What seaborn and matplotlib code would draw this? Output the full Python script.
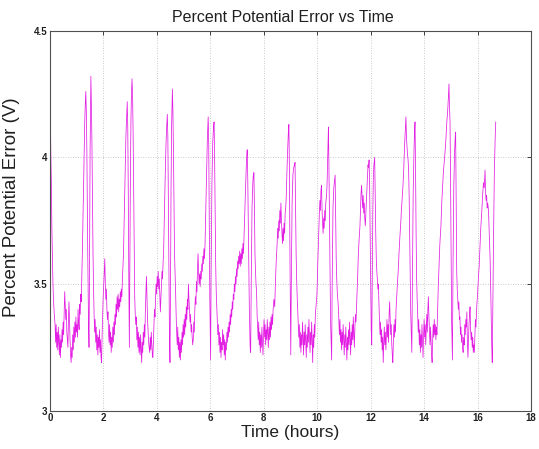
import matplotlib
matplotlib.use("Agg")
import matplotlib.pyplot as plt
import seaborn as sns
import pandas as pd

# Time (hours)
time_h = [
    0.00, 0.02, 0.03, 0.05, 0.07, 0.09, 0.11, 0.13, 0.16, 0.19,
    0.21, 0.23, 0.25, 0.27, 0.29, 0.31, 0.33, 0.35, 0.37, 0.39,
    0.41, 0.43, 0.45, 0.47, 0.49, 0.51, 0.53, 0.55, 0.57, 0.59,
    0.61, 0.63, 0.65, 0.67, 0.69, 0.71, 0.73, 0.75, 0.77, 0.79,
    0.81, 0.83, 0.85, 0.87, 0.89, 0.91, 0.93, 0.95, 0.97, 0.99,
    1.01, 1.03, 1.05, 1.07, 1.09, 1.11, 1.13, 1.15, 1.17, 1.19,
    1.21, 1.24, 1.27, 1.30, 1.32, 1.34, 1.36, 1.38, 1.41, 1.44,
    1.46, 1.48, 1.50, 1.52, 1.53, 1.55, 1.57, 1.59, 1.61, 1.63,
    1.65, 1.67, 1.69, 1.71, 1.73, 1.75, 1.77, 1.79, 1.81, 1.83,
    1.85, 1.87, 1.89, 1.91, 1.93, 1.95, 1.97, 1.99, 2.02, 2.05,
    2.07, 2.09, 2.11, 2.13, 2.15, 2.17, 2.19, 2.21, 2.23, 2.25,
    2.27, 2.29, 2.31, 2.33, 2.35, 2.37, 2.39, 2.41, 2.43, 2.45,
    2.47, 2.49, 2.51, 2.53, 2.55, 2.57, 2.59, 2.61, 2.63, 2.65,
    2.67, 2.69, 2.71, 2.73, 2.75, 2.78, 2.81, 2.84, 2.87, 2.89,
    2.91, 2.93, 2.95, 2.97, 2.99, 3.01, 3.03, 3.05, 3.07, 3.09,
    3.11, 3.13, 3.15, 3.17, 3.19, 3.21, 3.23, 3.25, 3.27, 3.29,
    3.31, 3.33, 3.35, 3.37, 3.39, 3.41, 3.43, 3.45, 3.47, 3.49,
    3.51, 3.53, 3.55, 3.57, 3.59, 3.61, 3.63, 3.65, 3.67, 3.69,
    3.71, 3.73, 3.75, 3.77, 3.79, 3.81, 3.83, 3.85, 3.87, 3.89,
    3.91, 3.93, 3.95, 3.97, 3.99, 4.01, 4.03, 4.05, 4.07, 4.09,
    4.11, 4.13, 4.15, 4.17, 4.19, 4.21, 4.23, 4.25, 4.28, 4.31,
    4.34, 4.37, 4.39, 4.41, 4.43, 4.45, 4.47, 4.49, 4.51, 4.53,
    4.55, 4.57, 4.58, 4.60, 4.62, 4.64, 4.66, 4.68, 4.70, 4.72,
    4.74, 4.76, 4.78, 4.80, 4.82, 4.84, 4.86, 4.88, 4.90, 4.92,
    4.94, 4.96, 4.98, 5.00, 5.02, 5.04, 5.06, 5.08, 5.10, 5.12,
    5.14, 5.16, 5.18, 5.20, 5.22, 5.24, 5.26, 5.28, 5.30, 5.32,
    5.34, 5.36, 5.38, 5.40, 5.42, 5.44, 5.46, 5.48, 5.50, 5.52,
    5.54, 5.56, 5.58, 5.60, 5.62, 5.64, 5.66, 5.68, 5.70, 5.72,
    5.74, 5.76, 5.78, 5.80, 5.83, 5.86, 5.89, 5.92, 5.94, 5.96,
    5.98, 6.01, 6.03, 6.06, 6.09, 6.12, 6.14, 6.16, 6.18, 6.20,
    6.22, 6.24, 6.26, 6.28, 6.30, 6.32, 6.34, 6.36, 6.38, 6.40,
    6.42, 6.44, 6.46, 6.48, 6.50, 6.52, 6.54, 6.56, 6.58, 6.60,
    6.62, 6.64, 6.66, 6.68, 6.70, 6.72, 6.74, 6.76, 6.78, 6.80,
    6.82, 6.84, 6.86, 6.88, 6.90, 6.92, 6.94, 6.96, 6.98, 7.00,
    7.02, 7.04, 7.06, 7.08, 7.10, 7.12, 7.14, 7.16, 7.18, 7.20,
    7.22, 7.24, 7.26, 7.28, 7.31, 7.34, 7.36, 7.38, 7.40, 7.43,
    7.46, 7.49, 7.51, 7.53, 7.56, 7.59, 7.61, 7.63, 7.65, 7.67,
    7.69, 7.71, 7.73, 7.75, 7.77, 7.79, 7.81, 7.83, 7.85, 7.87,
    7.89, 7.91, 7.93, 7.95, 7.97, 7.99, 8.01, 8.03, 8.05, 8.07,
    8.09, 8.11, 8.13, 8.15, 8.17, 8.19, 8.21, 8.23, 8.25, 8.27,
    8.29, 8.31, 8.33, 8.35, 8.38, 8.41, 8.44, 8.47, 8.50, 8.52,
    8.54, 8.56, 8.58, 8.60, 8.62, 8.64, 8.66, 8.68, 8.70, 8.72,
    8.74, 8.76, 8.78, 8.80, 8.82, 8.84, 8.86, 8.89, 8.92, 8.94,
    8.96, 8.98, 9.01, 9.03, 9.06, 9.09, 9.12, 9.15, 9.17, 9.19,
    9.21, 9.23, 9.25, 9.27, 9.29, 9.31, 9.33, 9.35, 9.37, 9.39,
    9.41, 9.43, 9.45, 9.47, 9.49, 9.51, 9.53, 9.55, 9.57, 9.59,
    9.61, 9.63, 9.65, 9.67, 9.69, 9.71, 9.73, 9.75, 9.77, 9.79,
    9.81, 9.83, 9.85, 9.87, 9.89, 9.91, 9.93, 9.96, 9.99, 10.02,
    10.05, 10.08, 10.10, 10.12, 10.14, 10.16, 10.18, 10.20, 10.22, 10.24,
    10.26, 10.28, 10.30, 10.32, 10.35, 10.37, 10.39, 10.41, 10.42, 10.44,
    10.47, 10.50, 10.54, 10.56, 10.59, 10.62, 10.65, 10.67, 10.69, 10.71,
    10.73, 10.75, 10.77, 10.79, 10.81, 10.83, 10.85, 10.87, 10.89, 10.91,
    10.93, 10.95, 10.97, 10.99, 11.01, 11.03, 11.05, 11.07, 11.09, 11.11,
    11.13, 11.15, 11.17, 11.19, 11.21, 11.23, 11.25, 11.27, 11.29, 11.31,
    11.33, 11.35, 11.37, 11.39, 11.41, 11.43, 11.45, 11.48, 11.51, 11.54,
    11.57, 11.60, 11.62, 11.64, 11.66, 11.68, 11.70, 11.72, 11.74, 11.76,
    11.78, 11.80, 11.82, 11.84, 11.86, 11.88, 11.90, 11.92, 11.94, 11.96,
    11.98, 12.00, 12.02, 12.04, 12.06, 12.08, 12.10, 12.12, 12.15, 12.17,
    12.19, 12.21, 12.23, 12.25, 12.27, 12.29, 12.31, 12.33, 12.35, 12.37,
    12.39, 12.41, 12.43, 12.45, 12.47, 12.49, 12.51, 12.53, 12.55, 12.57,
    12.59, 12.61, 12.63, 12.65, 12.67, 12.69, 12.71, 12.73, 12.75, 12.77,
    12.79, 12.81, 12.83, 12.85, 12.87, 12.89, 12.91, 12.93, 12.95, 12.97,
    13.00, 13.03, 13.06, 13.09, 13.12, 13.15, 13.18, 13.21, 13.24, 13.27,
    13.30, 13.32, 13.34, 13.36, 13.38, 13.40, 13.42, 13.44, 13.47, 13.50,
    13.54, 13.56, 13.59, 13.62, 13.64, 13.66, 13.68, 13.70, 13.72, 13.74,
    13.76, 13.78, 13.80, 13.82, 13.84, 13.86, 13.88, 13.90, 13.92, 13.94,
    13.96, 13.98, 14.00, 14.02, 14.04, 14.06, 14.08, 14.10, 14.12, 14.14,
    14.16, 14.18, 14.20, 14.22, 14.24, 14.26, 14.28, 14.30, 14.32, 14.34,
    14.36, 14.38, 14.40, 14.42, 14.44, 14.46, 14.48, 14.50, 14.53, 14.56,
    14.59, 14.63, 14.66, 14.69, 14.72, 14.76, 14.79, 14.82, 14.85, 14.88,
    14.91, 14.93, 14.95, 14.97, 14.99, 15.01, 15.03, 15.06, 15.08, 15.11,
    15.14, 15.16, 15.18, 15.20, 15.22, 15.24, 15.26, 15.28, 15.30, 15.32,
    15.34, 15.36, 15.38, 15.40, 15.42, 15.44, 15.46, 15.48, 15.50, 15.52,
    15.54, 15.56, 15.58, 15.60, 15.62, 15.64, 15.66, 15.68, 15.70, 15.72,
    15.74, 15.76, 15.78, 15.80, 15.82, 15.84, 15.86, 15.88, 15.90, 15.92,
    15.94, 15.97, 16.00, 16.03, 16.06, 16.09, 16.12, 16.16, 16.19, 16.22,
    16.25, 16.28, 16.30, 16.32, 16.34, 16.36, 16.38, 16.41, 16.43, 16.45,
    16.47, 16.49, 16.51, 16.53, 16.55, 16.57, 16.60, 16.63, 16.66, 16.68,
]

# Percent potential error (V)
error_v = [
    4.24, 4.12, 4.02, 3.90, 3.72, 3.60, 3.50, 3.44, 3.38, 3.34,
    3.27, 3.34, 3.25, 3.31, 3.24, 3.33, 3.27, 3.22, 3.30, 3.21,
    3.28, 3.25, 3.32, 3.27, 3.35, 3.30, 3.38, 3.47, 3.42, 3.36,
    3.40, 3.31, 3.28, 3.25, 3.36, 3.43, 3.35, 3.28, 3.22, 3.19,
    3.25, 3.21, 3.30, 3.24, 3.33, 3.27, 3.35, 3.29, 3.37, 3.31,
    3.34, 3.29, 3.40, 3.35, 3.32, 3.42, 3.38, 3.46, 3.43, 3.52,
    3.62, 3.80, 4.00, 4.14, 4.21, 4.26, 4.18, 4.02, 3.65, 3.35,
    3.25, 3.58, 4.02, 4.24, 4.32, 4.20, 4.05, 3.82, 3.62, 3.48,
    3.38, 3.31, 3.36, 3.27, 3.33, 3.24, 3.30, 3.22, 3.29, 3.25,
    3.32, 3.23, 3.28, 3.21, 3.19, 3.30, 3.38, 3.45, 3.52, 3.60,
    3.50, 3.44, 3.48, 3.40, 3.36, 3.39, 3.31, 3.27, 3.34, 3.26,
    3.31, 3.23, 3.29, 3.25, 3.33, 3.27, 3.35, 3.30, 3.38, 3.34,
    3.42, 3.37, 3.45, 3.40, 3.46, 3.39, 3.44, 3.41, 3.47, 3.43,
    3.48, 3.45, 3.52, 3.57, 3.62, 3.78, 3.95, 4.08, 4.17, 4.22,
    4.12, 3.85, 3.50, 3.25, 3.60, 3.95, 4.15, 4.26, 4.31, 4.24,
    4.10, 3.88, 3.62, 3.45, 3.38, 3.34, 3.37, 3.28, 3.33, 3.25,
    3.31, 3.23, 3.29, 3.22, 3.30, 3.24, 3.19, 3.27, 3.23, 3.31,
    3.26, 3.34, 3.29, 3.40, 3.47, 3.53, 3.44, 3.36, 3.31, 3.27,
    3.25, 3.23, 3.29, 3.24, 3.31, 3.26, 3.22, 3.21, 3.28, 3.34,
    3.40, 3.37, 3.45, 3.50, 3.46, 3.53, 3.49, 3.55, 3.48, 3.52,
    3.45, 3.39, 3.44, 3.50, 3.55, 3.52, 3.58, 3.62, 3.78, 3.92,
    4.05, 4.13, 4.17, 4.08, 3.82, 3.55, 3.30, 3.19, 3.50, 3.88,
    4.12, 4.22, 4.27, 4.18, 4.02, 3.80, 3.62, 3.55, 3.47, 3.38,
    3.31, 3.26, 3.33, 3.24, 3.29, 3.21, 3.27, 3.20, 3.28, 3.23,
    3.31, 3.26, 3.34, 3.29, 3.36, 3.30, 3.38, 3.33, 3.41, 3.36,
    3.44, 3.40, 3.50, 3.44, 3.40, 3.35, 3.38, 3.31, 3.34, 3.29,
    3.26, 3.28, 3.35, 3.31, 3.40, 3.45, 3.42, 3.51, 3.47, 3.56,
    3.62, 3.55, 3.50, 3.54, 3.49, 3.55, 3.52, 3.58, 3.55, 3.61,
    3.58, 3.64, 3.60, 3.65, 3.80, 3.95, 4.08, 4.16, 4.05, 3.75,
    3.45, 3.20, 3.55, 3.90, 4.06, 4.12, 4.14, 4.00, 3.78, 3.58,
    3.47, 3.41, 3.35, 3.30, 3.34, 3.26, 3.31, 3.23, 3.29, 3.21,
    3.27, 3.24, 3.32, 3.26, 3.30, 3.22, 3.28, 3.20, 3.27, 3.24,
    3.31, 3.27, 3.33, 3.29, 3.35, 3.31, 3.38, 3.34, 3.40, 3.37,
    3.43, 3.40, 3.46, 3.44, 3.50, 3.47, 3.53, 3.50, 3.56, 3.53,
    3.59, 3.56, 3.61, 3.58, 3.63, 3.57, 3.62, 3.58, 3.64, 3.60,
    3.66, 3.62, 3.68, 3.75, 3.85, 3.95, 4.00, 4.03, 3.92, 3.65,
    3.40, 3.25, 3.23, 3.50, 3.80, 3.90, 3.93, 3.94, 3.80, 3.62,
    3.55, 3.50, 3.47, 3.38, 3.33, 3.28, 3.35, 3.26, 3.31, 3.23,
    3.30, 3.25, 3.33, 3.27, 3.22, 3.30, 3.36, 3.29, 3.34, 3.26,
    3.32, 3.28, 3.36, 3.30, 3.25, 3.33, 3.28, 3.35, 3.29, 3.37,
    3.32, 3.38, 3.34, 3.40, 3.44, 3.41, 3.52, 3.60, 3.66, 3.72,
    3.68, 3.75, 3.71, 3.79, 3.74, 3.82, 3.76, 3.70, 3.66, 3.72,
    3.67, 3.74, 3.70, 3.78, 3.80, 3.84, 3.92, 4.02, 4.10, 4.13,
    3.95, 3.60, 3.22, 3.50, 3.82, 3.93, 3.96, 3.97, 3.98, 3.80,
    3.62, 3.52, 3.45, 3.40, 3.36, 3.29, 3.34, 3.25, 3.31, 3.23,
    3.30, 3.26, 3.35, 3.28, 3.22, 3.31, 3.26, 3.34, 3.28, 3.21,
    3.30, 3.25, 3.33, 3.27, 3.36, 3.29, 3.23, 3.31, 3.26, 3.35,
    3.28, 3.19, 3.30, 3.25, 3.34, 3.29, 3.38, 3.42, 3.46, 3.58,
    3.68, 3.78, 3.83, 3.79, 3.87, 3.89, 3.80, 3.74, 3.70, 3.76,
    3.72, 3.79, 3.75, 3.82, 3.85, 3.90, 4.00, 4.08, 4.12, 3.95,
    3.65, 3.35, 3.20, 3.50, 3.80, 3.88, 3.91, 3.93, 3.78, 3.60,
    3.52, 3.47, 3.44, 3.41, 3.35, 3.30, 3.36, 3.27, 3.32, 3.24,
    3.31, 3.26, 3.34, 3.28, 3.22, 3.30, 3.25, 3.33, 3.27, 3.20,
    3.29, 3.24, 3.32, 3.26, 3.35, 3.28, 3.22, 3.31, 3.26, 3.34,
    3.28, 3.37, 3.30, 3.25, 3.33, 3.38, 3.35, 3.43, 3.52, 3.62,
    3.68, 3.73, 3.80, 3.86, 3.89, 3.84, 3.80, 3.85, 3.78, 3.82,
    3.76, 3.73, 3.78, 3.82, 3.88, 3.93, 3.97, 3.96, 3.99, 3.90,
    3.70, 3.50, 3.32, 3.26, 3.50, 3.78, 3.92, 3.97, 4.00, 3.85,
    3.70, 3.60, 3.55, 3.52, 3.48, 3.50, 3.42, 3.36, 3.30, 3.35,
    3.27, 3.32, 3.24, 3.29, 3.19, 3.27, 3.33, 3.26, 3.31, 3.24,
    3.30, 3.36, 3.29, 3.34, 3.27, 3.38, 3.43, 3.36, 3.30, 3.34,
    3.26, 3.22, 3.19, 3.28, 3.34, 3.29, 3.36, 3.31, 3.40, 3.44,
    3.50, 3.55, 3.62, 3.68, 3.73, 3.79, 3.84, 3.89, 3.96, 4.05,
    4.12, 4.16, 4.08, 4.04, 4.01, 3.99, 3.95, 3.85, 3.60, 3.38,
    3.23, 3.50, 3.85, 4.02, 4.10, 4.14, 3.95, 3.70, 3.52, 3.44,
    3.38, 3.31, 3.36, 3.26, 3.32, 3.23, 3.30, 3.25, 3.34, 3.28,
    3.21, 3.30, 3.36, 3.29, 3.34, 3.26, 3.32, 3.38, 3.31, 3.40,
    3.45, 3.37, 3.31, 3.26, 3.33, 3.27, 3.22, 3.19, 3.28, 3.34,
    3.29, 3.36, 3.30, 3.34, 3.28, 3.33, 3.30, 3.38, 3.49, 3.58,
    3.66, 3.73, 3.82, 3.88, 3.94, 3.99, 4.03, 4.08, 4.14, 4.18,
    4.24, 4.29, 4.20, 4.14, 3.90, 3.60, 3.35, 3.20, 3.55, 3.88,
    4.02, 4.07, 4.10, 3.85, 3.55, 3.48, 3.44, 3.40, 3.43, 3.36,
    3.37, 3.30, 3.33, 3.27, 3.30, 3.25, 3.23, 3.29, 3.26, 3.34,
    3.30, 3.36, 3.33, 3.39, 3.27, 3.21, 3.28, 3.34, 3.38, 3.41,
    3.32, 3.28, 3.31, 3.25, 3.29, 3.23, 3.26, 3.23, 3.30, 3.36,
    3.33, 3.41, 3.46, 3.52, 3.57, 3.65, 3.72, 3.79, 3.85, 3.90,
    3.88, 3.95, 3.86, 3.83, 3.85, 3.80, 3.82, 3.79, 3.72, 3.66,
    3.60, 3.50, 3.38, 3.26, 3.19, 3.40, 3.70, 3.95, 4.08, 4.14,
]

x_ticks = [0, 2, 4, 6, 8, 10, 12, 14, 16, 18]
y_ticks = [3.0, 3.5, 4.0, 4.5]
y_tick_labels = ["3", "3.5", "4", "4.5"]

sns.set_style("white")
plt.rcParams["font.family"] = ["Liberation Sans", "DejaVu Sans"]

df = pd.DataFrame({"Time (hours)": time_h, "Error": error_v})

fig = plt.figure(figsize=(5.39, 4.49), dpi=100)
ax = fig.add_axes([50 / 539, 1 - 410.7 / 449, 481 / 539, 380 / 449])

sns.lineplot(data=df, x="Time (hours)", y="Error", ax=ax, color="#e31ee3",
             linewidth=0.55, estimator=None, sort=False)

ax.set_xlim(0, 18)
ax.set_ylim(3, 4.5)
ax.set_xticks(x_ticks)
ax.set_xticklabels([str(t) for t in x_ticks])
ax.set_yticks(y_ticks)
ax.set_yticklabels(y_tick_labels)
ax.grid(True, linestyle=(0, (1, 2)), color="#b8b8b8", linewidth=0.6)
ax.tick_params(direction="in", length=3, width=0.6, labelsize=7,
               colors="#202020", top=True, right=True, pad=2)
for lbl in ax.get_xticklabels() + ax.get_yticklabels():
    lbl.set_fontweight("bold")
for s in ax.spines.values():
    s.set_visible(True)
    s.set_color("#505050")
    s.set_linewidth(0.8)

ax.set_title("Percent Potential Error vs Time", fontsize=11.5, pad=6,
             color="#202020", x=0.485)
ax.set_xlabel("Time (hours)", fontsize=12.5, labelpad=1, color="#202020")
ax.set_ylabel("Percent Potential Error (V)", fontsize=13.5, color="#202020")
ax.yaxis.set_label_coords(-0.062, 0.535)

fig.savefig("out.png", dpi=100)
